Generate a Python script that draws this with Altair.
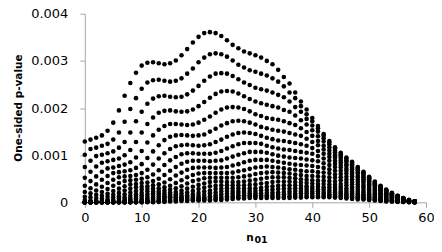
import altair as alt
import pandas as pd

# x positions (n01)
n01 = list(range(0, 59))

# one-sided p-values, in units of 1e-5, one list per curve
c01 = [129,133,137,142,152,169,195,226,253,275,290,296,297,295,293,295,301,312,325,339,351,359,361,359,353,344,334,327,320,316,312,307,300,293,281,266,252,233,214,197,179,162,145,130,117,105,95,86,75,65,54,44,35,27,20,14,9,5,2]
c02 = [101,113,116,120,124,133,148,171,198,221,241,254,259,260,258,256,258,263,273,284,297,307,314,316,314,309,301,292,286,280,277,273,269,263,256,246,233,221,204,187,172,157,142,127,114,102,93,84,73,63,53,43,34,26,19,14,9,5,2]
c03 = [75,88,98,101,104,108,116,128,148,172,192,209,220,225,226,224,223,224,229,237,247,258,267,273,274,273,268,261,254,249,243,240,237,233,228,223,214,202,192,177,163,150,136,123,110,99,89,81,71,61,51,41,33,25,19,13,8,5,2]
c04 = [52,65,76,84,87,90,93,100,111,128,148,166,180,190,194,195,193,192,193,197,204,213,222,230,235,236,235,231,225,219,214,210,207,204,201,196,192,184,174,165,153,140,129,117,106,95,86,78,68,59,49,40,32,24,18,13,8,5,2]
c05 = [35,45,55,65,72,74,77,80,85,95,109,127,142,154,162,166,166,165,164,165,169,175,182,190,197,201,202,201,198,193,187,183,179,177,175,172,168,164,157,149,141,130,120,110,100,90,81,74,64,56,46,38,30,23,17,12,8,4,2]
c06 = [22,30,38,48,56,62,64,66,68,73,81,94,108,121,132,139,142,143,142,141,142,144,150,156,163,168,172,173,172,169,165,160,157,154,152,150,147,144,141,135,128,121,112,103,95,85,77,70,61,53,44,36,28,22,16,11,7,4,2]
c07 = [12,19,25,33,41,48,53,55,56,58,62,69,80,93,104,113,119,121,122,121,120,121,123,128,133,139,144,147,148,147,145,141,137,134,131,130,128,126,123,120,115,109,103,96,88,79,71,65,56,49,41,33,26,20,15,11,7,4,1]
c08 = [5,11,16,22,28,35,41,45,47,48,50,53,59,68,79,89,96,102,104,104,103,103,103,105,109,114,119,123,126,126,126,124,120,117,114,112,111,109,107,105,103,98,93,88,82,74,67,60,53,46,38,31,25,19,14,10,6,4,1]
c09 = [1,4,9,14,18,24,29,34,38,39,41,42,45,50,58,67,75,82,86,88,88,88,87,88,89,93,97,101,104,107,107,107,105,102,99,97,95,94,93,91,89,87,83,79,75,67,61,55,48,42,35,28,22,17,13,9,6,3,1]
c10 = [0,1,4,8,12,16,20,25,29,32,33,34,36,38,42,49,57,63,69,73,74,74,74,73,74,75,78,81,85,88,90,90,90,88,86,84,82,80,79,78,77,75,73,70,67,60,54,49,43,37,31,25,20,15,11,8,5,3,1]
c11 = [0,0,1,3,6,10,13,17,21,24,27,28,29,30,32,35,41,47,53,58,61,62,62,62,62,62,63,66,68,71,74,75,76,75,74,72,70,69,67,66,66,64,63,62,59,53,48,43,38,33,27,22,18,14,10,7,5,3,1]
c12 = [0,0,0,1,3,5,8,11,14,17,20,23,23,24,25,27,30,34,40,45,48,51,52,52,52,52,52,53,55,57,60,62,63,64,63,62,61,59,58,56,56,55,54,53,52,47,42,38,33,29,24,20,16,12,9,6,4,2,1]
c13 = [0,0,0,0,1,2,4,7,9,12,15,17,19,20,20,21,22,25,29,33,37,40,43,44,44,43,43,43,44,46,48,50,52,53,53,53,52,51,49,48,47,46,46,45,44,39,36,32,28,24,20,17,13,10,8,5,3,2,1]
c14 = [0,0,0,0,0,1,2,4,6,8,10,12,14,16,16,17,17,19,21,24,28,31,34,35,36,36,36,36,36,37,38,40,41,43,44,44,44,43,42,41,40,39,39,38,37,33,30,27,24,21,17,14,11,9,6,4,3,2,1]
c15 = [0,0,0,0,0,0,1,2,3,5,6,8,10,12,13,13,14,14,15,17,20,23,25,28,29,30,30,30,29,30,30,31,33,34,35,36,36,36,35,34,33,33,32,32,31,28,25,23,20,17,14,12,9,7,5,4,2,1,1]
c16 = [0,0,0,0,0,0,0,0,1,2,4,5,7,8,10,11,11,11,12,12,14,16,19,21,23,24,24,24,24,24,24,25,26,27,28,29,29,30,29,29,28,27,27,26,26,23,21,19,17,14,12,10,8,6,4,3,2,1,0]
c17 = [0,0,0,0,0,0,0,0,0,1,2,3,4,5,7,8,9,9,9,9,10,11,13,15,17,18,19,20,20,19,19,19,20,21,21,22,23,24,24,24,23,23,22,22,21,19,17,15,13,12,10,8,6,5,4,3,2,1,0]
c18 = [0,0,0,0,0,0,0,0,0,0,1,2,2,3,4,5,6,7,7,7,7,8,9,10,12,13,14,15,15,15,15,15,15,16,16,17,18,18,19,19,19,18,18,17,17,15,14,12,11,9,8,6,5,4,3,2,1,1,0]
c19 = [0,0,0,0,0,0,0,0,0,0,0,1,1,2,2,3,4,5,5,5,5,6,6,7,8,9,10,11,12,12,12,12,12,12,12,12,13,14,14,14,14,14,14,14,13,12,11,10,8,7,6,5,4,3,2,2,1,1,0]
c20 = [0,0,0,0,0,0,0,0,0,0,0,0,0,1,1,2,2,3,3,4,4,4,4,5,5,6,7,8,8,9,9,9,9,9,9,9,9,10,10,11,11,11,11,11,10,9,8,7,6,6,5,4,3,2,2,1,1,0,0]

curves = [c01, c02, c03, c04, c05, c06, c07, c08, c09, c10,
          c11, c12, c13, c14, c15, c16, c17, c18, c19, c20]

x_ticks = [0, 10, 20, 30, 40, 50, 60]
y_ticks = [0, 0.001, 0.002, 0.003, 0.004]
x_title_main = "n"
x_title_sub = "01"

rows = []
for k, vals in enumerate(curves, start=1):
    assert len(vals) == len(n01), (k, len(vals))
    for n, v in zip(n01, vals):
        rows.append({"n01": n, "p": v / 100000.0, "curve": k})
df = pd.DataFrame(rows)

points = alt.Chart(df).mark_circle(size=21, color="#000000", opacity=1).encode(
    x=alt.X("n01:Q",
            scale=alt.Scale(domain=[0, 60], nice=False, zero=False),
            axis=alt.Axis(values=x_ticks, title=x_title_main, labelPadding=4,
                          labelFlush=False, labelOverlap=False,
                          titleX=165, titleY=38, titleBaseline="alphabetic",
                          titleFontSize=10.5)),
    y=alt.Y("p:Q",
            scale=alt.Scale(domain=[0, 0.004], nice=False),
            axis=alt.Axis(values=y_ticks,
                          labelExpr="datum.value == 0 ? '0' : format(datum.value, '.3f')",
                          title="One-sided p-value", labelPadding=12,
                          labelFlush=False, labelOverlap=False,
                          titleX=-66, titleY=94, titleAngle=270,
                          titleAlign="center", titleBaseline="middle",
                          titleFontSize=10.5)),
    detail="curve:N",
)

subscript = alt.Chart(pd.DataFrame({"t": [x_title_sub]})).mark_text(
    font="DejaVu Sans", fontSize=9.5, fontWeight="bold", color="#000000",
    align="left", baseline="alphabetic",
).encode(
    text="t:N",
    x=alt.value(170),
    y=alt.value(229.5),
)

chart = alt.layer(points, subscript).properties(
    width=342, height=189,
    autosize=alt.AutoSizeParams(type="none"),
    padding={"left": 77, "top": 5.5, "right": 8, "bottom": 41},
).configure_view(stroke=None).configure_axis(
    grid=False, domainColor="#a6a6a6", tickColor="#a6a6a6", tickSize=5,
    labelFont="DejaVu Sans", labelFontSize=13, labelColor="#000000",
    titleFont="DejaVu Sans", titleFontWeight="bold",
    titleColor="#000000",
)

chart.save("out.html", embed_options={"renderer": "svg", "actions": False})
